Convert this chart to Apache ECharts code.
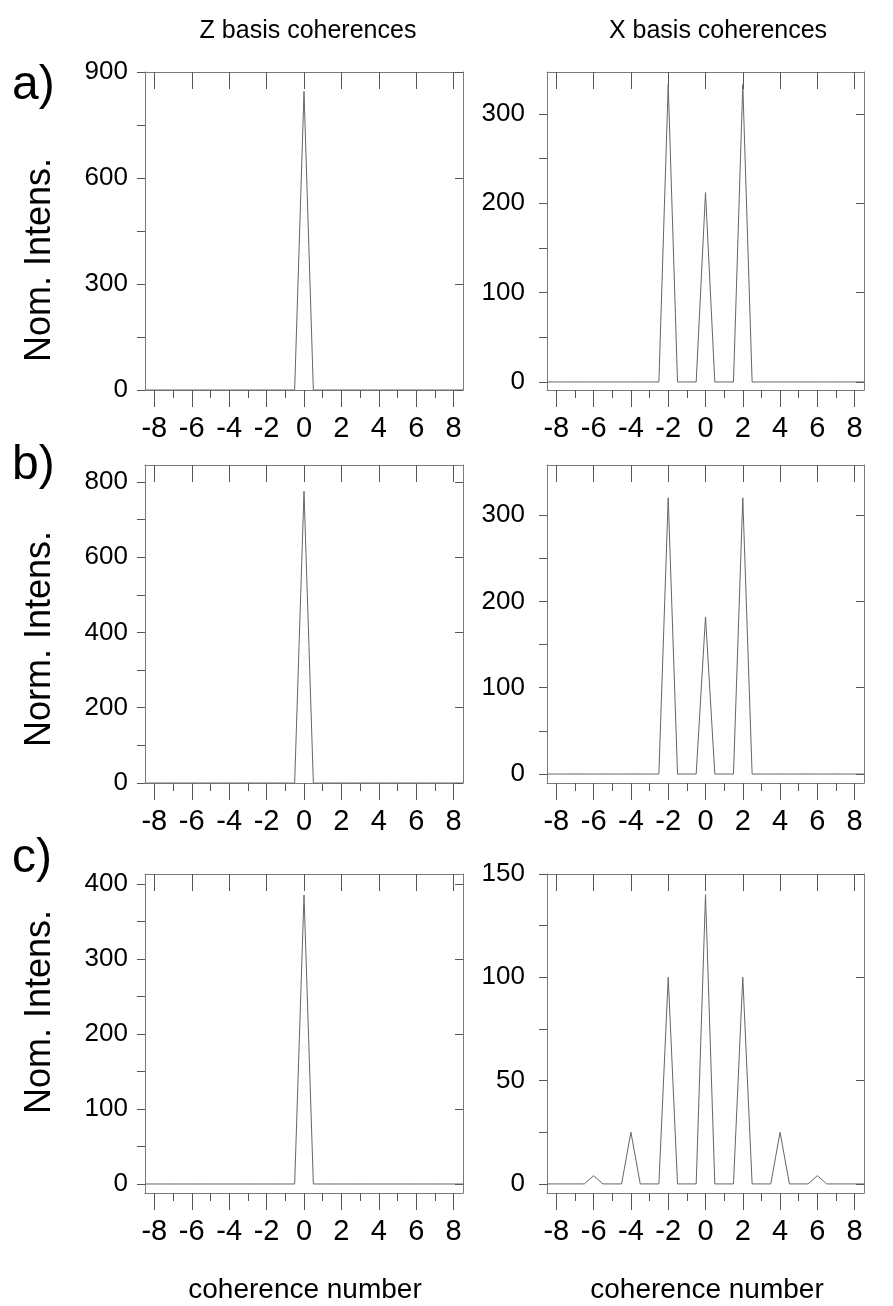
<!DOCTYPE html>
<html>
<head>
<meta charset="utf-8">
<script src="https://cdn.jsdelivr.net/npm/echarts@6/dist/echarts.min.js"></script>
<style>
html,body{margin:0;padding:0;background:#fff;}
#chart{width:893px;height:1306px;}
</style>
</head>
<body>
<div id="chart"></div>
<script>
// coherence-number sample grid (x values)
const coherence = [-8.5,-8,-7.5,-7,-6.5,-6,-5.5,-5,-4.5,-4,-3.5,-3,-2.5,-2,-1.5,-1,-0.5,0,0.5,1,1.5,2,2.5,3,3.5,4,4.5,5,5.5,6,6.5,7,7.5,8,8.5];

// a) Z basis / X basis
const zBasisA = [0,0,0,0,0,0,0,0,0,0,0,0,0,0,0,0,0,845,0,0,0,0,0,0,0,0,0,0,0,0,0,0,0,0,0];
const xBasisA = [0,0,0,0,0,0,0,0,0,0,0,0,0,333,0,0,0,212,0,0,0,333,0,0,0,0,0,0,0,0,0,0,0,0,0];
// b)
const zBasisB = [0,0,0,0,0,0,0,0,0,0,0,0,0,0,0,0,0,775,0,0,0,0,0,0,0,0,0,0,0,0,0,0,0,0,0];
const xBasisB = [0,0,0,0,0,0,0,0,0,0,0,0,0,320,0,0,0,182,0,0,0,320,0,0,0,0,0,0,0,0,0,0,0,0,0];
// c)
const zBasisC = [0,0,0,0,0,0,0,0,0,0,0,0,0,0,0,0,0,385,0,0,0,0,0,0,0,0,0,0,0,0,0,0,0,0,0];
const xBasisC = [0,0,0,0,0,4,0,0,0,25,0,0,0,100,0,0,0,140,0,0,0,100,0,0,0,25,0,0,0,4,0,0,0,0,0];

// tick labels
const xMajorTicks = [-8,-6,-4,-2,0,2,4,6,8];
const xMinorTicks = [-7,-5,-3,-1,1,3,5,7];
const yTicksA_Z = [0,300,600,900];     const yMinorA_Z = [150,450,750];
const yTicksA_X = [0,100,200,300];     const yMinorA_X = [50,150,250];
const yTicksB_Z = [0,200,400,600,800]; const yMinorB_Z = [100,300,500,700];
const yTicksB_X = [0,100,200,300];     const yMinorB_X = [50,150,250];
const yTicksC_Z = [0,100,200,300,400]; const yMinorC_Z = [50,150,250,350];
const yTicksC_X = [0,50,100,150];      const yMinorC_X = [25,75,125];

const columnTitles = ['Z basis coherences','X basis coherences'];
const panelLabels = ['a)','b)','c)'];
const yNames = ['Nom. Intens.','Norm. Intens.','Nom. Intens.'];
const xName = 'coherence number';

const FONT = 'Liberation Sans, Arial, sans-serif';
const LINE = '#7a7a7a';
const TICK = '#555';

const panels = [
  {left:145, top:72,  w:318, h:318, min:0,     max:900, major:yTicksA_Z, minor:yMinorA_Z, data:zBasisA, lm:17},
  {left:547, top:72,  w:317, h:318, min:-9,    max:347, major:yTicksA_X, minor:yMinorA_X, data:xBasisA, lm:22},
  {left:145, top:465, w:318, h:318, min:0,     max:845, major:yTicksB_Z, minor:yMinorB_Z, data:zBasisB, lm:17},
  {left:547, top:465, w:317, h:318, min:-10.4, max:358, major:yTicksB_X, minor:yMinorB_X, data:xBasisB, lm:22},
  {left:145, top:874, w:318, h:319, min:-12,   max:413, major:yTicksC_Z, minor:yMinorC_Z, data:zBasisC, lm:17},
  {left:547, top:874, w:317, h:319, min:-4.4,  max:150, major:yTicksC_X, minor:yMinorC_X, data:xBasisC, lm:22}
];

const grid = [], xAxis = [], yAxis = [], series = [];
panels.forEach((p, i) => {
  grid.push({left:p.left, top:p.top, width:p.w, height:p.h, containLabel:false});
  // bottom axis: major ticks + labels
  xAxis.push({
    type:'value', gridIndex:i, position:'bottom', min:-8.5, max:8.5,
    axisLine:{show:true, onZero:false, lineStyle:{color:LINE, width:1}},
    axisTick:{show:true, inside:false, length:17, customValues:xMajorTicks, lineStyle:{color:TICK, width:1}},
    axisLabel:{show:true, customValues:xMajorTicks, margin:24, fontSize:29, color:'#000', fontFamily:FONT},
    splitLine:{show:false}
  });
  // bottom axis: minor ticks
  xAxis.push({
    type:'value', gridIndex:i, position:'bottom', min:-8.5, max:8.5,
    axisLine:{show:false, onZero:false},
    axisTick:{show:true, inside:false, length:8, customValues:xMinorTicks, lineStyle:{color:TICK, width:1}},
    axisLabel:{show:false, customValues:xMinorTicks},
    splitLine:{show:false}
  });
  // top axis: inward major ticks
  xAxis.push({
    type:'value', gridIndex:i, position:'top', min:-8.5, max:8.5,
    axisLine:{show:true, onZero:false, lineStyle:{color:LINE, width:1}},
    axisTick:{show:true, inside:true, length:17, customValues:xMajorTicks, lineStyle:{color:TICK, width:1}},
    axisLabel:{show:false, customValues:xMajorTicks},
    splitLine:{show:false}
  });
  // left axis
  yAxis.push({
    type:'value', gridIndex:i, position:'left', min:p.min, max:p.max,
    axisLine:{show:true, onZero:false, lineStyle:{color:LINE, width:1}},
    axisTick:{show:true, inside:false, length:8, customValues:p.major.concat(p.minor), lineStyle:{color:TICK, width:1}},
    axisLabel:{show:true, customValues:p.major, margin:p.lm, fontSize:26, color:'#000', fontFamily:FONT},
    splitLine:{show:false}
  });
  // right axis
  yAxis.push({
    type:'value', gridIndex:i, position:'right', min:p.min, max:p.max,
    axisLine:{show:true, onZero:false, lineStyle:{color:LINE, width:1}},
    axisTick:{show:true, inside:true, length:8, customValues:p.major, lineStyle:{color:TICK, width:1}},
    axisLabel:{show:false, customValues:p.major},
    splitLine:{show:false}
  });
  series.push({
    type:'line', xAxisIndex:3*i, yAxisIndex:2*i,
    data: coherence.map((x, k) => [x, p.data[k]]),
    showSymbol:false, symbol:'none', animation:false,
    lineStyle:{color:'#666', width:1}
  });
});

const graphic = [
  {type:'text', x:308, y:31, style:{text:columnTitles[0], font:'25px ' + FONT, fill:'#000', align:'center', verticalAlign:'middle'}},
  {type:'text', x:718, y:31, style:{text:columnTitles[1], font:'25px ' + FONT, fill:'#000', align:'center', verticalAlign:'middle'}},
  {type:'text', x:12, y:86, style:{text:panelLabels[0], font:'48px ' + FONT, fill:'#000', align:'left', verticalAlign:'middle'}},
  {type:'text', x:12, y:466, style:{text:panelLabels[1], font:'48px ' + FONT, fill:'#000', align:'left', verticalAlign:'middle'}},
  {type:'text', x:12, y:859, style:{text:panelLabels[2], font:'48px ' + FONT, fill:'#000', align:'left', verticalAlign:'middle'}},
  {type:'text', x:40, y:260, rotation:Math.PI/2, style:{text:yNames[0], font:'36px ' + FONT, fill:'#000', align:'center', verticalAlign:'middle'}},
  {type:'text', x:40, y:639, rotation:Math.PI/2, style:{text:yNames[1], font:'36px ' + FONT, fill:'#000', align:'center', verticalAlign:'middle'}},
  {type:'text', x:40, y:1012, rotation:Math.PI/2, style:{text:yNames[2], font:'36px ' + FONT, fill:'#000', align:'center', verticalAlign:'middle'}},
  {type:'text', x:305, y:1290, style:{text:xName, font:'28px ' + FONT, fill:'#000', align:'center', verticalAlign:'middle'}},
  {type:'text', x:707, y:1290, style:{text:xName, font:'28px ' + FONT, fill:'#000', align:'center', verticalAlign:'middle'}}
];

const chart = echarts.init(document.getElementById('chart'), null, {renderer:'canvas'});
chart.setOption({
  backgroundColor:'#fff',
  animation:false,
  grid, xAxis, yAxis, series, graphic
});
</script>
</body>
</html>
